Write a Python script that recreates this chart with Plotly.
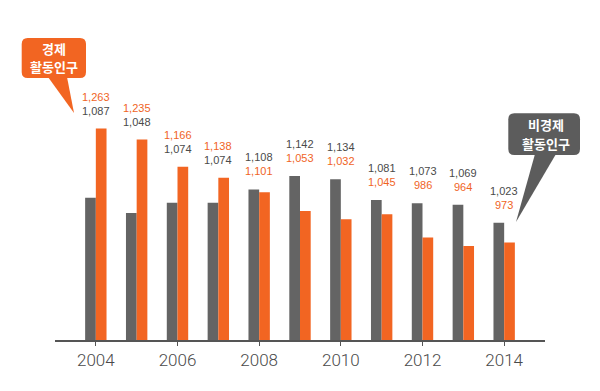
import plotly.graph_objects as go

# ---- data ----
years = [2004, 2005, 2006, 2007, 2008, 2009, 2010, 2011, 2012, 2013, 2014]
econ_active = [1263, 1235, 1166, 1138, 1101, 1053, 1032, 1045, 986, 964, 973]        # 경제활동인구 (orange)
non_econ_active = [1087, 1048, 1074, 1074, 1108, 1142, 1134, 1081, 1073, 1069, 1023]  # 비경제활동인구 (gray)
tick_years = [2004, 2006, 2008, 2010, 2012, 2014]
callout_econ = ["경제", "활동인구"]
callout_non_econ = ["비경제", "활동인구"]

# ---- style ----
W, H = 600, 391
L, R, T, B = 55, 55, 20, 51
GRAY = "#646464"
ORANGE = "#F26522"
GRAY_TXT = "#4a4a4a"
ORANGE_TXT = "#F0641F"
FONT = "Liberation Sans, Arial, sans-serif"
KFONT = "Noto Sans CJK KR, sans-serif"

fig = go.Figure()
fig.add_trace(go.Bar(x=years, y=non_econ_active, marker=dict(color=GRAY, line=dict(width=0)),
                     name="비경제활동인구", hoverinfo="skip"))
fig.add_trace(go.Bar(x=years, y=econ_active, marker=dict(color=ORANGE, line=dict(width=0)),
                     name="경제활동인구", hoverinfo="skip"))

annotations = []
for yr, o, g in zip(years, econ_active, non_econ_active):
    top = max(o, g)
    if o >= g:
        upper, uc, lower, lc = o, ORANGE_TXT, g, GRAY_TXT
    else:
        upper, uc, lower, lc = g, GRAY_TXT, o, ORANGE_TXT
    annotations.append(dict(x=yr, y=top, xref="x", yref="y", text=f"{upper:,}", showarrow=False,
                            yanchor="middle", yshift=32, font=dict(size=11, color=uc, family=FONT)))
    annotations.append(dict(x=yr, y=top, xref="x", yref="y", text=f"{lower:,}", showarrow=False,
                            yanchor="middle", yshift=18, font=dict(size=11, color=lc, family=FONT)))


def P(x, y):
    return ((x - L) / (W - L - R), (H - B - y) / (H - T - B))


def pstr(x, y):
    a, b = P(x, y)
    return f"{a:.5f},{b:.5f}"


def rrect(x0, y0, x1, y1, r):
    return (f"M{pstr(x0 + r, y0)} L{pstr(x1 - r, y0)} Q{pstr(x1, y0)} {pstr(x1, y0 + r)} "
            f"L{pstr(x1, y1 - r)} Q{pstr(x1, y1)} {pstr(x1 - r, y1)} "
            f"L{pstr(x0 + r, y1)} Q{pstr(x0, y1)} {pstr(x0, y1 - r)} "
            f"L{pstr(x0, y0 + r)} Q{pstr(x0, y0)} {pstr(x0 + r, y0)} Z")


def tri(p1, p2, p3):
    return f"M{pstr(*p1)} L{pstr(*p2)} L{pstr(*p3)} Z"


shapes = [
    dict(type="path", xref="paper", yref="paper", path=rrect(21.7, 38, 86, 78, 6),
         fillcolor=ORANGE, line=dict(width=0)),
    dict(type="path", xref="paper", yref="paper", path=tri((48, 77), (67, 77), (74, 113)),
         fillcolor=ORANGE, line=dict(width=0)),
    dict(type="path", xref="paper", yref="paper", path=rrect(508.3, 113.3, 580, 155, 6),
         fillcolor="#5c5c5c", line=dict(width=0)),
    dict(type="path", xref="paper", yref="paper", path=tri((535, 154), (556, 154), (516, 222)),
         fillcolor="#5c5c5c", line=dict(width=0)),
]


def callout_text(lines, x, ys):
    for line, y in zip(lines, ys):
        cx, cy = P(x, y)
        annotations.append(dict(x=cx, y=cy, xref="paper", yref="paper", text=line, showarrow=False,
                                xanchor="center", yanchor="middle",
                                font=dict(size=13, color="white", family=KFONT, weight="bold")))


callout_text(callout_econ, 54, (49, 66))
callout_text(callout_non_econ, 546, (124.5, 143))

fig.update_layout(
    width=W, height=H,
    margin=dict(l=L, r=R, t=T, b=B, pad=0),
    paper_bgcolor="white", plot_bgcolor="white",
    barmode="group", bargap=0.476, bargroupgap=0,
    showlegend=False,
    annotations=annotations,
    shapes=shapes,
    xaxis=dict(range=[2003, 2015], tickmode="array", tickvals=tick_years,
               ticktext=[str(t) for t in tick_years],
               showline=True, linecolor="#555555", linewidth=1.5,
               ticks="outside", ticklen=4, tickwidth=1, tickcolor="#555555",
               showgrid=False, zeroline=False,
               tickfont=dict(size=17, color="#4a4a4a", family="Roboto, Liberation Sans, sans-serif",
                             weight=300)),
    yaxis=dict(range=[725, 1539], visible=False, showgrid=False, zeroline=False),
)

fig.write_html("out.html", config={"displayModeBar": False, "staticPlot": True},
               post_script="document.body.style.margin='0';document.body.style.overflow='hidden';")
